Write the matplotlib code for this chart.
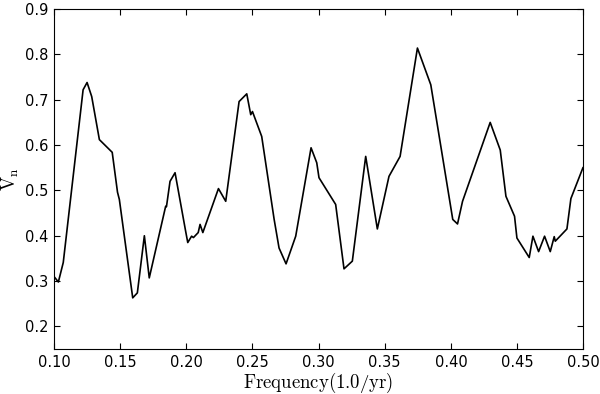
import matplotlib
matplotlib.use("Agg")
import matplotlib.pyplot as plt

# spectrum
freq = [0.1000, 0.1033, 0.1070, 0.1220, 0.1250, 0.1285, 0.1343, 0.1440, 0.1480,
        0.1494, 0.1595, 0.1630, 0.1683, 0.1720, 0.1844, 0.1850, 0.1877, 0.1915,
        0.1995, 0.2011, 0.2040, 0.2054, 0.2090, 0.2104, 0.2125, 0.2243, 0.2298,
        0.2399, 0.2457, 0.2487, 0.2500, 0.2570, 0.2664, 0.2701, 0.2754, 0.2827,
        0.2943, 0.2986, 0.3003, 0.3129, 0.3192, 0.3255, 0.3356, 0.3444, 0.3532,
        0.3616, 0.3747, 0.3848, 0.4014, 0.4050, 0.4088, 0.4297, 0.4373, 0.4416,
        0.4481, 0.4499, 0.4592, 0.4620, 0.4663, 0.4708, 0.4751, 0.4781, 0.4789,
        0.4877, 0.4907, 0.4998]
vn = [0.310, 0.298, 0.341, 0.722, 0.738, 0.707, 0.612, 0.584, 0.496,
      0.480, 0.263, 0.274, 0.400, 0.307, 0.465, 0.464, 0.520, 0.539,
      0.410, 0.385, 0.399, 0.396, 0.407, 0.425, 0.407, 0.504, 0.476,
      0.696, 0.713, 0.667, 0.674, 0.619, 0.436, 0.373, 0.338, 0.399,
      0.594, 0.561, 0.528, 0.469, 0.327, 0.344, 0.575, 0.415, 0.531,
      0.575, 0.814, 0.733, 0.436, 0.426, 0.476, 0.650, 0.589, 0.487,
      0.443, 0.395, 0.352, 0.399, 0.365, 0.399, 0.365, 0.398, 0.388,
      0.415, 0.482, 0.550]

plt.rcParams['mathtext.fontset'] = 'cm'
plt.rcParams['xtick.direction'] = 'in'
plt.rcParams['ytick.direction'] = 'in'

fig = plt.figure(figsize=(6, 3.94), dpi=100)
ax = fig.add_axes([0.09, 0.114, 0.882, 0.863])
ax.plot(freq, vn, color='black', lw=1.2)

ax.set_xlim(0.10, 0.50)
ax.set_ylim(0.15, 0.90)
ax.set_xticks([0.10, 0.15, 0.20, 0.25, 0.30, 0.35, 0.40, 0.45, 0.50])
ax.set_yticks([0.2, 0.3, 0.4, 0.5, 0.6, 0.7, 0.8, 0.9])
ax.tick_params(top=True, right=True, labelsize=10.5, length=4, pad=4)
ax.set_xlabel(r'$\mathrm{Frequency(1.0/yr)}$', fontsize=13.5)
ax.set_ylabel(r'$\mathrm{V_n}$', fontsize=13.5)
ax.xaxis.set_label_coords(0.5, -0.064)
ax.yaxis.set_label_coords(-0.062, 0.5)

fig.savefig('out.png', dpi=100)
